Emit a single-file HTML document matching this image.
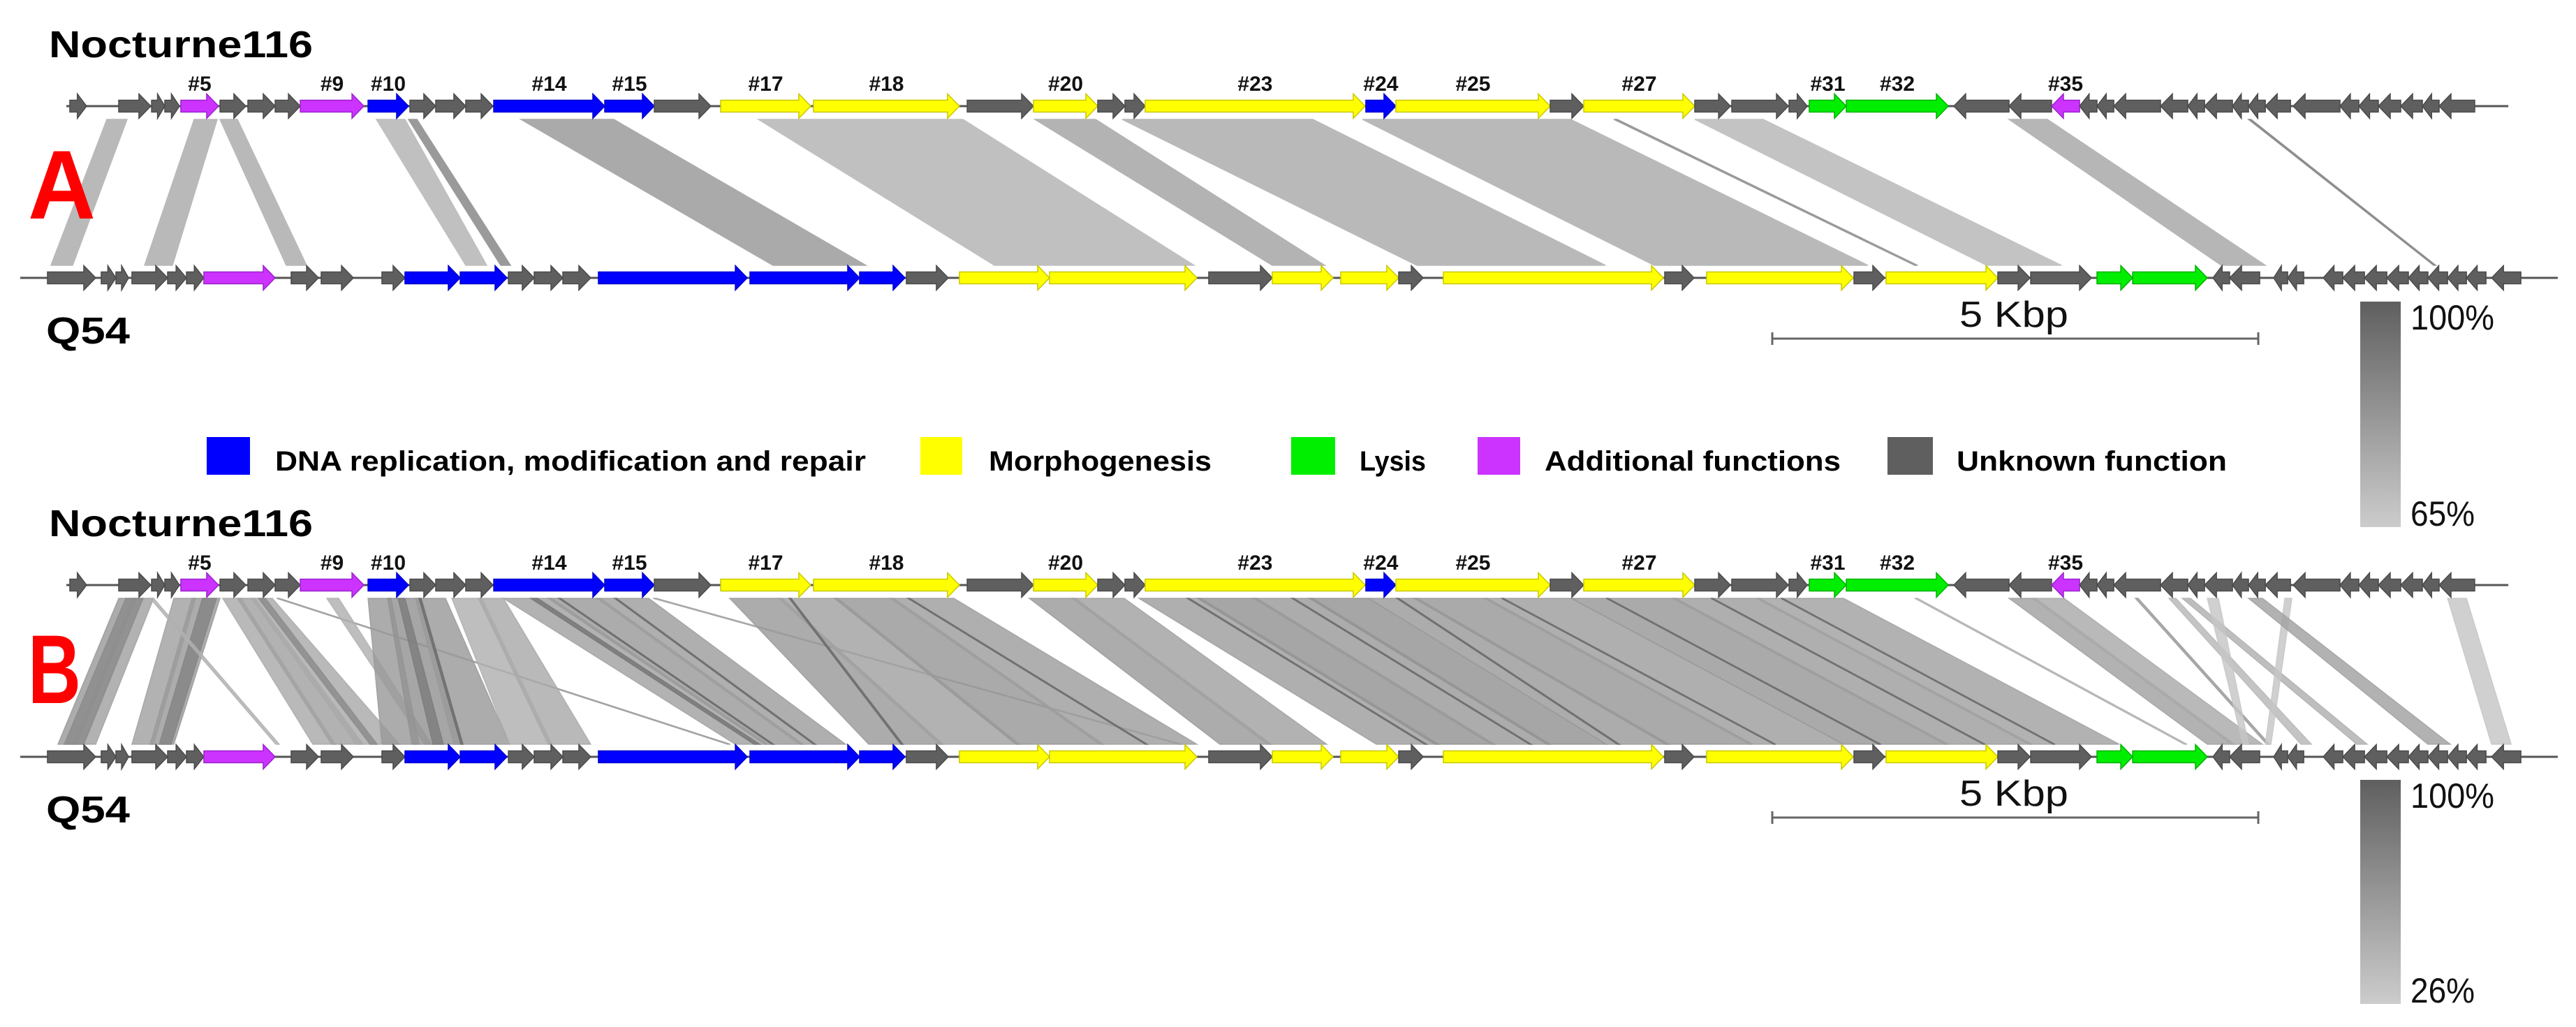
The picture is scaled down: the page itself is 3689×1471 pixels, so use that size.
<!DOCTYPE html>
<html><head><meta charset="utf-8">
<style>
html,body{margin:0;padding:0;background:#fff;}
svg{display:block;}
text{font-family:"Liberation Sans",sans-serif;}
</style></head>
<body>
<svg id="fig" width="3689" height="1471" viewBox="0 0 3689 1471" xmlns="http://www.w3.org/2000/svg">
<defs>
<linearGradient id="idgrad" x1="0" y1="0" x2="0" y2="1">
<stop offset="0" stop-color="#5f5f5f"/><stop offset="1" stop-color="#cccccc"/>
</linearGradient>
</defs>
<g id="panelA"></g>
<g id="panelB"></g>
<g id="legend">
<rect x="296" y="626" width="62" height="54" fill="#0000ff"/>
<text x="394" y="674" font-size="40" font-weight="bold" textLength="846" lengthAdjust="spacingAndGlyphs">DNA replication, modification and repair</text>
<rect x="1318" y="626" width="60" height="54" fill="#ffff00"/>
<text x="1416" y="674" font-size="40" font-weight="bold" textLength="319" lengthAdjust="spacingAndGlyphs">Morphogenesis</text>
<rect x="1849" y="626" width="63" height="54" fill="#00ee00"/>
<text x="1947" y="674" font-size="40" font-weight="bold" textLength="95" lengthAdjust="spacingAndGlyphs">Lysis</text>
<rect x="2116" y="626" width="61" height="54" fill="#cc33ff"/>
<text x="2212" y="674" font-size="40" font-weight="bold" textLength="424" lengthAdjust="spacingAndGlyphs">Additional functions</text>
<rect x="2703" y="626" width="65" height="54" fill="#5f5f5f"/>
<text x="2802" y="674" font-size="40" font-weight="bold" textLength="387" lengthAdjust="spacingAndGlyphs">Unknown function</text>
</g>
</svg>
<script>
// ---- data (genome coordinates in bp) ----
const topLineSpan = [474, 25597];
const botLineSpan = [0, 26106];
const topGeneStart = [510,1013,1351,1487,1652,2055,2342,2622,2881,3578,4009,4274,4583,4871,6013,6523,7206,8161,9742,10424,11085,11365,11573,13843,14152,15740,16085,17227,17608,18197,18405,18786,19892,20460,20898,21186,21365,21538,22019,22299,22472,22759,22924,23097,23384,23865,24059,24260,24490,24713,24885];
const topGeneEnd   = [682,1343,1487,1638,2040,2320,2622,2881,3535,3994,4274,4583,4864,6013,6523,7105,8132,9662,10424,11085,11365,11573,13836,14152,15740,16085,17227,17594,18190,18384,18786,19835,20460,20898,21186,21365,21538,22019,22299,22472,22759,22924,23097,23356,23865,24059,24260,24490,24713,24885,25251];
const topGeneLabel = ["","","","","#5","","","","#9","#10","","","","#14","#15","","#17","#18","","#20","","","#23","#24","#25","","#27","","","","#31","#32","","","#35","","","","","","","","","","","","","","","",""];
const topTypes = ["g","g","g","g","m","g","g","g","m","b","g","g","g","b","b","g","y","y","g","y","g","g","y","b","y","g","y","g","g","g","G","G","gL","gL","mL","gL","gL","gL","gL","gL","gL","gL","gL","gL","gL","gL","gL","gL","gL","gL","gL"];
const botGeneStart = [280,833,984,1149,1516,1710,1889,2787,3096,3721,3958,4526,5022,5287,5582,5948,7507,8635,9116,9662,10589,12227,12881,13585,14181,14641,16918,17349,18865,19195,20345,20683,21365,21732,22558,22730,23183,23327,23693,23894,24117,24347,24569,24770,24972,25166,25425];
const botGeneEnd   = [776,984,1114,1516,1710,1889,2622,3068,3427,3958,4526,5007,5287,5582,5869,7479,8635,9102,9547,10589,12105,12881,13506,14181,14433,16904,17220,18858,19181,20345,20676,21308,21732,22500,22730,23039,23327,23492,23894,24117,24347,24569,24770,24972,25166,25367,25726];
const botGeneType  = ["g","g","g","g","g","g","m","g","g","g","b","b","g","g","g","b","b","b","g","y","y","g","y","y","g","y","g","y","g","y","g","g","G","G","gL","gL","gL","gL","gL","gL","gL","gL","gL","gL","gL","gL","gL"];
// BLAST hits panel A
const hitsATopStart = [891,1789,2055,3664,3994,5151,7594,10438,11336,13808,16394,17227,20460,22924];
const hitsATopEnd   = [1099,2026,2234,3958,4081,6106,9698,11063,13298,15949,16430,17931,20855,22950];
const hitsABotStart = [316,1279,2737,4583,4943,7744,10022,12881,14368,16810,19490,20230,22644,24828];
const hitsABotEnd   = [539,1566,2945,4799,5043,8700,12076,13420,16308,19008,19520,20999,23097,24850];
const hitsAIdentity = [71,71,71,69,81,76,69,73,71,71,81,68,72,85];
// panel B
const hitsBTopStart = [1013,1157,1085,1580,1767,1875,1336,2083,2234,2378,2450,2637,3154,3578,3779,4066,3887,4440,4713,4971,5431,5934,5251,6509,7299,7802,8377,8951,10381,10819,11509,12112,12687,13262,13872,14339,15058,15956,16997,17859,19490,20460,20697,21760,22105,22242,22500,23298,22924,24972,4102,5539,6114,7910,9131,12004,13082,14160,15237,16315,17392,18111];
const hitsBTopEnd   = [1193,1372,1264,1803,2055,2019,1372,2270,2414,2593,2522,2665,3276,3815,4102,4375,3958,4748,4971,5467,5970,6466,5323,6545,7838,8412,8987,9605,10855,11358,12148,12723,13298,13872,14375,15094,15956,17033,17895,18758,19519,20733,21027,21789,22177,22328,22615,23370,23068,25167,4124,5560,6135,7931,9152,12026,13103,14182,15259,16337,17414,18132];
const hitsBBotStart = [388,546,453,1149,1336,1430,2629,3010,3204,3455,3599,7277,4159,3721,4030,4461,4246,5036,5431,7356,7658,8017,7550,11918,8729,9454,10244,11106,12342,12831,13951,14555,15130,15704,16315,16926,17788,18758,19799,20661,22263,22500,22744,23111,23463,24038,22867,23097,24770,25424,4533,7730,8161,9059,11573,14448,15525,16430,18039,19121,20194,20913];
const hitsBBotEnd   = [582,776,654,1372,1580,1552,2665,3240,3527,3901,3671,7306,4231,4102,4533,5036,4353,5467,5869,7694,8053,8491,7608,11954,9490,10280,11142,12105,12867,13441,14591,15166,15740,16315,16962,17823,18758,19835,20697,21595,22292,22780,23068,23140,23571,24146,22924,23155,25000,25626,4555,7751,8182,9081,11595,14469,15546,16452,18060,19143,20216,20934];
const hitsBIdentity = [60,55,70,55,60,75,45,50,55,50,70,60,45,60,65,60,80,45,50,55,60,58,85,55,60,55,62,58,60,55,58,65,60,65,60,62,58,62,58,55,45,55,50,60,40,45,30,30,55,30,92,92,92,92,92,92,92,92,92,92,92,92];
const scaleBarKbp = 5;

// ---- scales ----
const X0 = 29, PX_PER_BP = 0.1392;
const xs = bp => X0 + bp * PX_PER_BP;
const NS = "http://www.w3.org/2000/svg";
const colorOf = {g:"#5f5f5f", b:"#0000ff", y:"#ffff00", G:"#00ee00", m:"#cc33ff"};
const strokeOf = {g:"#4a4a4a", b:"#0000cc", y:"#c8c800", G:"#00b000", m:"#9922cc"};
function idColor(id, lo){ const f=Math.max(0,Math.min(1,(id-lo)/(100-lo))); const v=Math.round(204-f*109); return `rgb(${v},${v},${v})`; }
function el(tag, attrs, parent){ const e=document.createElementNS(NS,tag); for(const k in attrs) e.setAttribute(k,attrs[k]); parent.appendChild(e); return e; }

function drawGene(g, s, e, type, cy, name){
  const left = type.endsWith("L");
  const c = type[0];
  const x1=xs(s), x2=xs(e), len=x2-x1;
  const hl=Math.min(17, len*0.55), bh=8.5, hh=17.5;
  let pts;
  if(!left) pts=[[x1,cy-bh],[x2-hl,cy-bh],[x2-hl,cy-hh],[x2,cy],[x2-hl,cy+hh],[x2-hl,cy+bh],[x1,cy+bh]];
  else pts=[[x2,cy-bh],[x1+hl,cy-bh],[x1+hl,cy-hh],[x1,cy],[x1+hl,cy+hh],[x1+hl,cy+bh],[x2,cy+bh]];
  const p = el("polygon",{points:pts.map(q=>q.join(",")).join(" "),fill:colorOf[c],stroke:strokeOf[c],"stroke-width":1.5},g);
  
  
}

function drawPanel(gid, dy, hits, lo, opacity, letter, legendLo){
  const g=document.getElementById(gid);
  const topY=152+dy, botY=398+dy, yT=171+dy, yB=380+dy;
  const hg=el("g",{},g);
  
  
  for(let i=0;i<hits[0].length;i++){
    const a=xs(hits[0][i]), b=xs(hits[1][i]), c=xs(hits[3][i]), d=xs(hits[2][i]);
    const col=idColor(hits[4][i], lo);
    const poly=el("polygon",{points:`${a},${yT} ${b},${yT} ${c},${yB} ${d},${yB}`,fill:col,"fill-opacity":opacity,stroke:col,"stroke-opacity":opacity,"stroke-width":1.5},hg);
    
    
  }
  const l1=el("line",{x1:xs(topLineSpan[0]),x2:xs(topLineSpan[1]),y1:topY,y2:topY,stroke:"#555","stroke-width":3},g);
  
  
  const l2=el("line",{x1:xs(botLineSpan[0]),x2:xs(botLineSpan[1]),y1:botY,y2:botY,stroke:"#555","stroke-width":3},g);
  
  
  for(let i=0;i<topGeneStart.length;i++){
    drawGene(g, topGeneStart[i], topGeneEnd[i], topTypes[i], topY, 'nocturne116-gene');
    if(topGeneLabel[i]){
      const t=el("text",{x:(xs(topGeneStart[i])+xs(topGeneEnd[i]))/2,y:130+dy,"font-size":30,"font-weight":"bold","text-anchor":"middle",fill:"#111"},g);
      t.textContent=topGeneLabel[i];
      
      
    }
  }
  for(let i=0;i<botGeneStart.length;i++) drawGene(g, botGeneStart[i], botGeneEnd[i], botGeneType[i], botY, 'q54-gene');
  const t1=el("text",{x:70,y:82+dy,"font-size":54,"font-weight":"bold",textLength:378,lengthAdjust:"spacingAndGlyphs",fill:"#000"},g);
  t1.textContent="Nocturne116";
  
  
  const t2=el("text",{x:66,y:492+dy,"font-size":54,"font-weight":"bold",textLength:120,lengthAdjust:"spacingAndGlyphs",fill:"#000"},g);
  t2.textContent="Q54";
  
  
  const t3=el("text",{x:40,y:(dy?1007:313),"font-size":140,"font-weight":"bold",fill:"#ff0000",textLength:(dy?76:97),lengthAdjust:"spacingAndGlyphs"},g);
  t3.textContent=letter;
  
  
  const sbY=485+dy;
  const sx1=2538, sx2=sx1+scaleBarKbp*1000*PX_PER_BP;
  const sb=el("path",{d:`M${sx1},${sbY} H${sx2} M${sx1},${sbY-9} V${sbY+9} M${sx2},${sbY-9} V${sbY+9}`,stroke:"#666","stroke-width":3,fill:"none"},g);
  
  
  const st=el("text",{x:(sx1+sx2)/2-2,y:468+dy,"font-size":52,"text-anchor":"middle",fill:"#111",textLength:156,lengthAdjust:"spacingAndGlyphs"},g);
  st.textContent=scaleBarKbp+" Kbp";
  
  
  const gy1=dy?1117:432, gy2=dy?1438:755;
  const gr=el("rect",{x:3380,y:gy1,width:58,height:gy2-gy1,fill:"url(#idgrad)"},g);
  
  
  const g1=el("text",{x:3452,y:gy1+40,"font-size":50,fill:"#111",textLength:120,lengthAdjust:"spacingAndGlyphs"},g);
  g1.textContent="100%";
  
  
  const g2=el("text",{x:3452,y:gy2-2,"font-size":50,fill:"#111",textLength:92,lengthAdjust:"spacingAndGlyphs"},g);
  g2.textContent=legendLo+"%";
  
  
}
drawPanel("panelA", 0, [hitsATopStart,hitsATopEnd,hitsABotStart,hitsABotEnd,hitsAIdentity], 65, 1, "A", 65);
drawPanel("panelB", 686, [hitsBTopStart,hitsBTopEnd,hitsBBotStart,hitsBBotEnd,hitsBIdentity], 26, 0.82, "B", 26);
</script>
</body></html>
